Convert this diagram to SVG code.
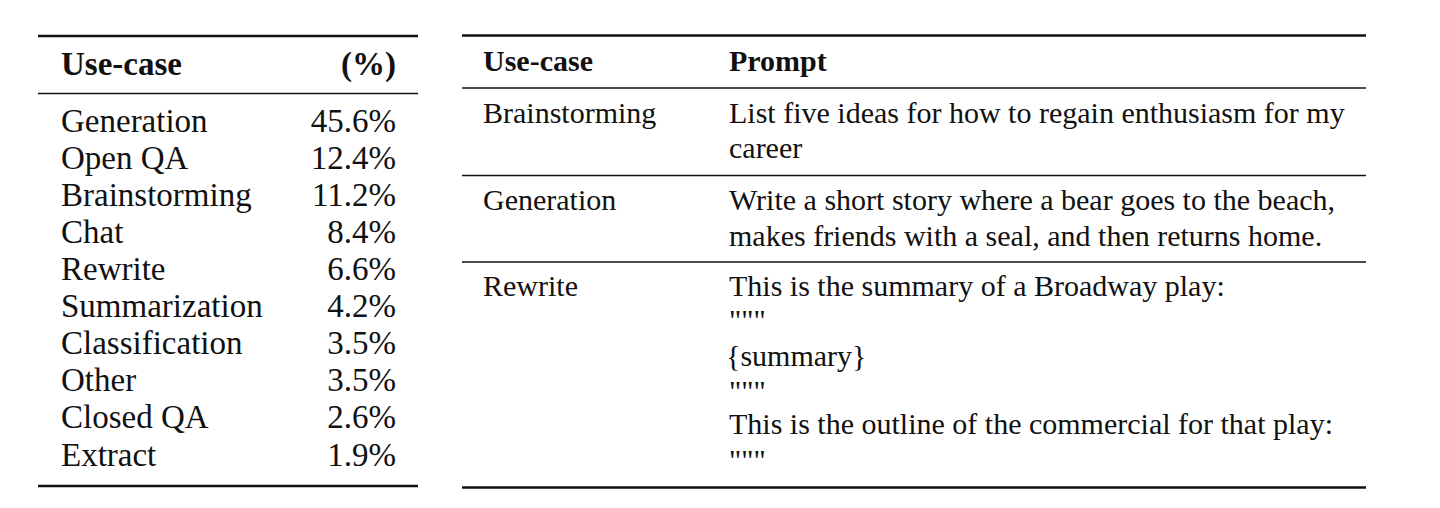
<svg xmlns="http://www.w3.org/2000/svg" width="1440" height="508" viewBox="0 0 1440 508">
<style>
.t{font-family:"Liberation Serif","Times New Roman",serif;fill:#111}
.l{font-size:33px}
.r{font-size:30px}
.b{font-weight:bold}
.e{text-anchor:end}
.thick{stroke:#111;stroke-width:2.6}
.thin{stroke:#111;stroke-width:1.4}
</style>
<rect width="1440" height="508" fill="#fff"/>
<g id="table-left">
<line class="thick" x1="38" y1="36" x2="418" y2="36"/>
<line class="thin" x1="38" y1="93.5" x2="418" y2="93.5"/>
<line class="thick" x1="38" y1="486" x2="418" y2="486"/>
<text class="t l b" x="61" y="75">Use-case</text>
<text class="t l b e" x="396" y="75">(%)</text>
<text class="t l" x="61" y="132">Generation</text><text class="t l e" x="396" y="132">45.6%</text>
<text class="t l" x="61" y="169">Open QA</text><text class="t l e" x="396" y="169">12.4%</text>
<text class="t l" x="61" y="206">Brainstorming</text><text class="t l e" x="396" y="206">11.2%</text>
<text class="t l" x="61" y="243">Chat</text><text class="t l e" x="396" y="243">8.4%</text>
<text class="t l" x="61" y="280">Rewrite</text><text class="t l e" x="396" y="280">6.6%</text>
<text class="t l" x="61" y="317">Summarization</text><text class="t l e" x="396" y="317">4.2%</text>
<text class="t l" x="61" y="354">Classification</text><text class="t l e" x="396" y="354">3.5%</text>
<text class="t l" x="61" y="391">Other</text><text class="t l e" x="396" y="391">3.5%</text>
<text class="t l" x="61" y="428">Closed QA</text><text class="t l e" x="396" y="428">2.6%</text>
<text class="t l" x="61" y="466">Extract</text><text class="t l e" x="396" y="466">1.9%</text>
</g>
<g id="table-right">
<line class="thick" x1="462" y1="35.5" x2="1366" y2="35.5"/>
<line class="thin" x1="462" y1="88" x2="1366" y2="88"/>
<line class="thin" x1="462" y1="175.5" x2="1366" y2="175.5"/>
<line class="thin" x1="462" y1="262" x2="1366" y2="262"/>
<line class="thick" x1="462" y1="487.5" x2="1366" y2="487.5"/>
<text class="t r b" x="483" y="71">Use-case</text>
<text class="t r b" x="729" y="71">Prompt</text>
<text class="t r" x="483" y="122.5">Brainstorming</text>
<text class="t r" x="729" y="122.5">List five ideas for how to regain enthusiasm for my</text>
<text class="t r" x="729" y="157.5">career</text>
<text class="t r" x="483" y="210">Generation</text>
<text class="t r" x="729" y="210">Write a short story where a bear goes to the beach,</text>
<text class="t r" x="729" y="245.5">makes friends with a seal, and then returns home.</text>
<text class="t r" x="483" y="296">Rewrite</text>
<text class="t r" x="729" y="296">This is the summary of a Broadway play:</text>
<text class="t r" x="729" y="330">"""</text>
<text class="t r" x="726" y="366">{summary}</text>
<text class="t r" x="729" y="401">"""</text>
<text class="t r" x="729" y="434">This is the outline of the commercial for that play:</text>
<text class="t r" x="729" y="470">"""</text>
</g>
</svg>
